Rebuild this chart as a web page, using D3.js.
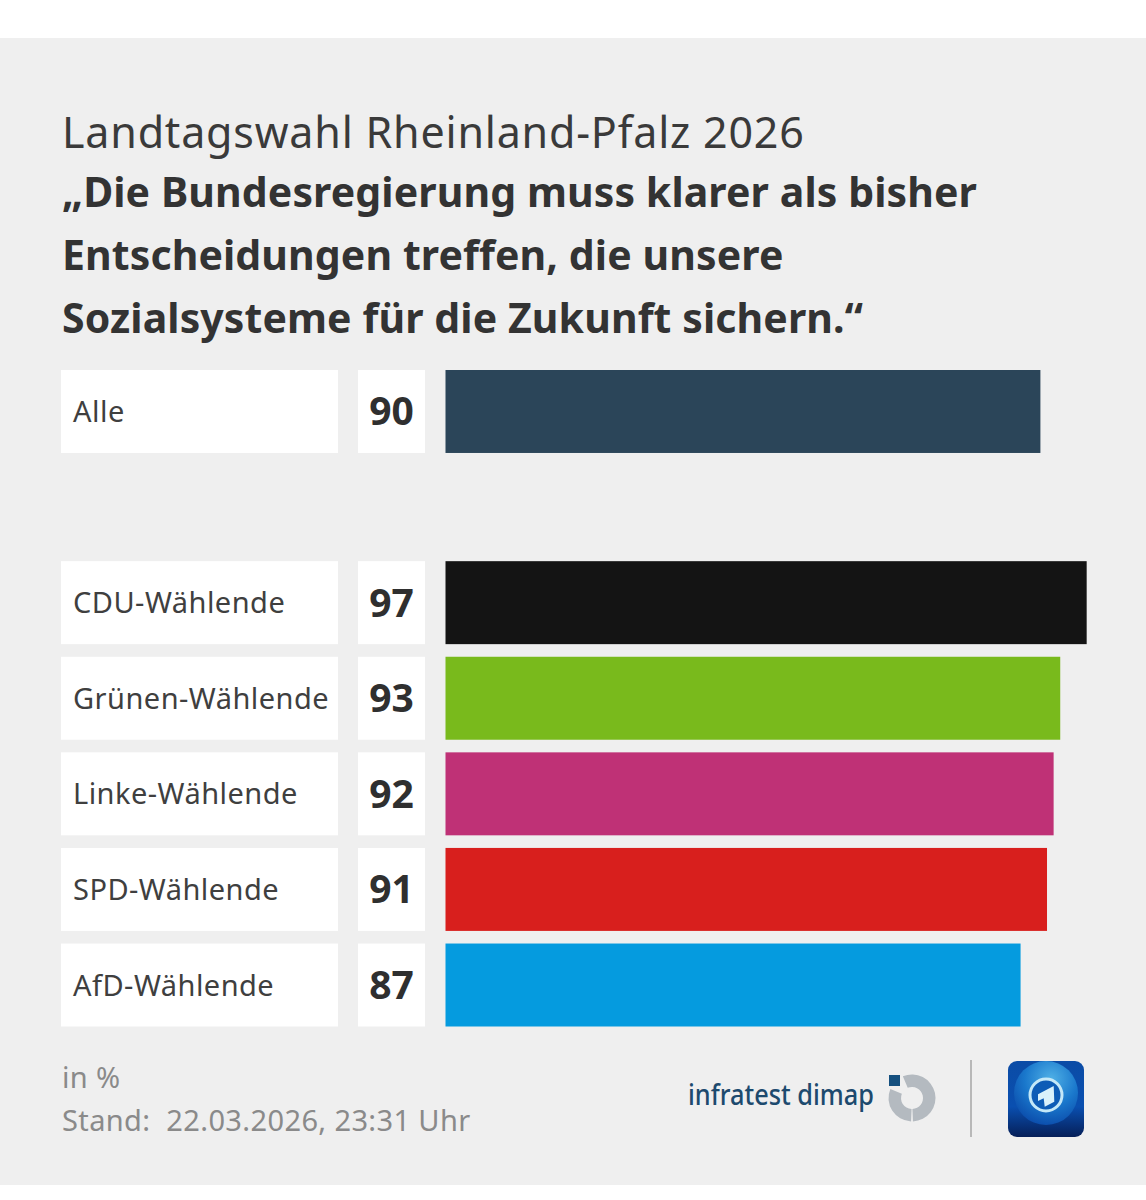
<!DOCTYPE html>
<html>
<head>
<meta charset="utf-8">
<script src="https://cdn.jsdelivr.net/npm/d3@7"></script>
<style>
  html, body { margin: 0; padding: 0; background: #fff; }
  svg { display: block; }
  text { font-family: "Noto Sans", sans-serif; }
</style>
</head>
<body>
<div id="chart"></div>
<script>
"use strict";

const categories = ["Alle", "", "CDU-Wählende", "Grünen-Wählende", "Linke-Wählende", "SPD-Wählende", "AfD-Wählende"];
const values = [90, null, 97, 93, 92, 91, 87];
const bar_colors = ["#2b4559", null, "#141414", "#79ba1c", "#bf3176", "#d81f1d", "#059bdf"];

const title_text = "Landtagswahl Rheinland-Pfalz 2026";
const question_lines = ["„Die Bundesregierung muss klarer als bisher", "Entscheidungen treffen, die unsere", "Sozialsysteme für die Zukunft sichern.“"];
const footer_lines = ["in %", "Stand:  22.03.2026, 23:31 Uhr"];

const width = 1146, height = 1200;

const svg = d3.select("#chart").append("svg")
    .attr("width", width)
    .attr("height", height);

const defs = svg.append("defs");

const tile_gradient = defs.append("linearGradient")
    .attr("id", "tile_gradient")
    .attr("x1", 0).attr("y1", 0).attr("x2", 0).attr("y2", 1);
tile_gradient.append("stop").attr("offset", "0%").attr("stop-color", "#0b4ca6");
tile_gradient.append("stop").attr("offset", "60%").attr("stop-color", "#0a4fb0");
tile_gradient.append("stop").attr("offset", "100%").attr("stop-color", "#061f58");

const globe_gradient = defs.append("radialGradient")
    .attr("id", "globe_gradient")
    .attr("cx", "58%").attr("cy", "28%").attr("r", "75%");
globe_gradient.append("stop").attr("offset", "0%").attr("stop-color", "#4fb0e6");
globe_gradient.append("stop").attr("offset", "55%").attr("stop-color", "#1a78cc");
globe_gradient.append("stop").attr("offset", "100%").attr("stop-color", "#0b4cab");

// Grey panel behind everything
svg.append("rect")
    .attr("x", 0).attr("y", 38)
    .attr("width", width).attr("height", 1147)
    .attr("fill", "#efefef");

// Heading
svg.append("text")
    .attr("x", 62).attr("y", 148)
    .attr("font-size", 43)
    .attr("letter-spacing", 0.8)
    .attr("fill", "#3a3a3a")
    .text(title_text);

svg.selectAll(".question")
    .data(question_lines)
    .join("text")
    .attr("class", "question")
    .attr("x", 62)
    .attr("y", (d, i) => 207 + i * 63)
    .attr("font-size", 41)
    .attr("font-weight", 700)
    .attr("letter-spacing", 0.1)
    .attr("fill", "#333333")
    .text(d => d);

// The empty category keeps the gap between Alle and the parties
const y_scale = d3.scaleBand()
    .domain(categories)
    .range([370, 1026.5])
    .paddingInner(0.132);

const x_scale = d3.scaleLinear()
    .domain([0, 100])
    .range([445.5, 1106.5]);

const rows = categories
    .map((name, i) => ({name: name, value: values[i], color: bar_colors[i]}))
    .filter(d => d.value !== null);

const row = svg.selectAll(".row")
    .data(rows)
    .join("g")
    .attr("class", "row")
    .attr("transform", d => "translate(0," + y_scale(d.name) + ")");

row.append("rect")
    .attr("x", 61)
    .attr("width", 277)
    .attr("height", y_scale.bandwidth())
    .attr("fill", "#ffffff");

row.append("rect")
    .attr("x", 358)
    .attr("width", 67)
    .attr("height", y_scale.bandwidth())
    .attr("fill", "#ffffff");

row.append("rect")
    .attr("x", x_scale(0))
    .attr("width", d => x_scale(d.value) - x_scale(0))
    .attr("height", y_scale.bandwidth())
    .attr("fill", d => d.color);

row.append("text")
    .attr("x", 73)
    .attr("y", y_scale.bandwidth() / 2 + 10.5)
    .attr("font-size", 29)
    .attr("letter-spacing", 0.47)
    .attr("fill", "#3f3f3f")
    .text(d => d.name);

row.append("text")
    .attr("x", 391.5)
    .attr("y", y_scale.bandwidth() / 2 + 14)
    .attr("text-anchor", "middle")
    .attr("font-size", 39)
    .attr("font-weight", 700)
    .attr("fill", "#2f2f2f")
    .text(d => d.value);

// Footer
svg.selectAll(".footer")
    .data(footer_lines)
    .join("text")
    .attr("class", "footer")
    .attr("x", 62)
    .attr("y", (d, i) => 1088 + i * 43)
    .attr("font-size", 29)
    .attr("letter-spacing", 0.38)
    .attr("fill", "#8a8a8a")
    .style("white-space", "pre")
    .text(d => d);

// infratest dimap logo
svg.append("text")
    .attr("x", 688).attr("y", 1105)
    .attr("font-size", 29)
    .attr("font-weight", 500)
    .attr("fill", "#1d4a6e")
    .attr("textLength", 186)
    .attr("lengthAdjust", "spacingAndGlyphs")
    .text("infratest dimap");

const ring = d3.arc()
    .innerRadius(11)
    .outerRadius(23.5);

const logo = svg.append("g").attr("transform", "translate(912,1098)");
logo.append("path")
    .attr("d", ring({startAngle: -0.4, endAngle: Math.PI - 0.04}))
    .attr("fill", "#b4bac0");
logo.append("path")
    .attr("d", ring({startAngle: Math.PI + 0.04, endAngle: 5.11}))
    .attr("fill", "#b4bac0");
logo.append("rect")
    .attr("x", -23).attr("y", -23)
    .attr("width", 11).attr("height", 11)
    .attr("fill", "#15507f");

// Divider
svg.append("line")
    .attr("x1", 971).attr("x2", 971)
    .attr("y1", 1060).attr("y2", 1137)
    .attr("stroke", "#b8b8b8")
    .attr("stroke-width", 2);

// Tagesschau tile
const tile = svg.append("g").attr("transform", "translate(1046,1099)");
tile.append("rect")
    .attr("x", -38).attr("y", -38)
    .attr("width", 76).attr("height", 76)
    .attr("rx", 9)
    .attr("fill", "url(#tile_gradient)");
tile.append("circle")
    .attr("r", 32)
    .attr("cy", -6)
    .attr("fill", "url(#globe_gradient)");
tile.append("circle")
    .attr("r", 16)
    .attr("cy", -4)
    .attr("fill", "#0d5cb6")
    .attr("stroke", "#c4e8f8")
    .attr("stroke-width", 3);
tile.append("path")
    .attr("transform", "translate(0,-4)")
    .attr("d", "M-8,-0.7L7.7,-9L8.3,6.7L-1.3,11.7L-2.3,3.3L-8,6Z")
    .attr("fill", "#d9f1fb");
</script>
</body>
</html>
